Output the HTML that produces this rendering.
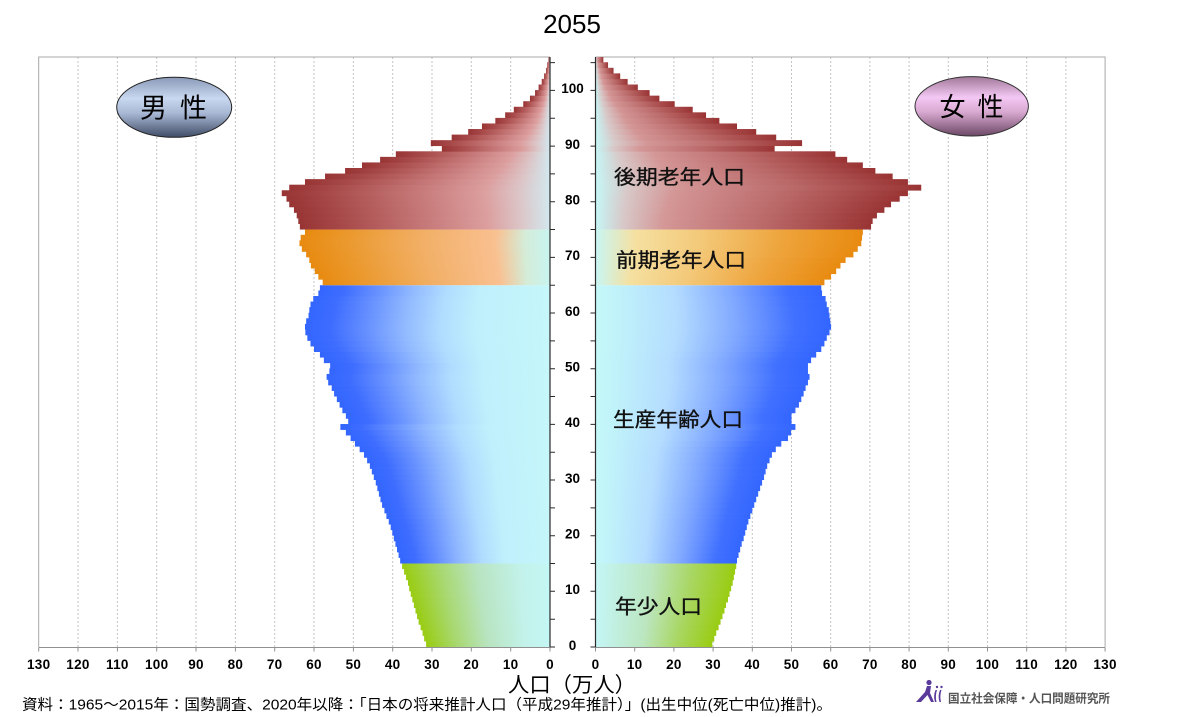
<!DOCTYPE html>
<html><head><meta charset="utf-8"><style>html,body{margin:0;padding:0;background:#fff}svg{display:block}</style></head><body>
<svg width="1200" height="717" viewBox="0 0 1200 717" xmlns="http://www.w3.org/2000/svg">
<defs>
<linearGradient id="gmR" x1="0" y1="0" x2="1" y2="0"><stop offset="0" stop-color="#d2e8ee"/><stop offset="0.12" stop-color="#dcc4c6"/><stop offset="0.25" stop-color="#dc9e9e"/><stop offset="0.5" stop-color="#c67878"/><stop offset="0.8" stop-color="#aa4d4d"/><stop offset="1" stop-color="#983434"/></linearGradient>
<linearGradient id="gfR" x1="0" y1="0" x2="1" y2="0"><stop offset="0" stop-color="#c6f6f6"/><stop offset="0.1" stop-color="#d8c8c8"/><stop offset="0.25" stop-color="#d49696"/><stop offset="0.6" stop-color="#bb6a6a"/><stop offset="1" stop-color="#9a3434"/></linearGradient>
<linearGradient id="gmO" x1="0" y1="0" x2="1" y2="0"><stop offset="0" stop-color="#c8f4f0"/><stop offset="0.1" stop-color="#d4ecd8"/><stop offset="0.22" stop-color="#f9c090"/><stop offset="0.5" stop-color="#f2b068"/><stop offset="0.8" stop-color="#eb9a30"/><stop offset="1" stop-color="#e88a10"/></linearGradient>
<linearGradient id="gfO" x1="0" y1="0" x2="1" y2="0"><stop offset="0" stop-color="#c8f6f4"/><stop offset="0.15" stop-color="#f5e0a0"/><stop offset="0.4" stop-color="#f3c878"/><stop offset="0.7" stop-color="#eea43c"/><stop offset="1" stop-color="#e88a10"/></linearGradient>
<linearGradient id="gmB" x1="0" y1="0" x2="1" y2="0"><stop offset="0" stop-color="#c4f6fa"/><stop offset="0.3" stop-color="#c0f0fc"/><stop offset="0.45" stop-color="#b0dcff"/><stop offset="0.6" stop-color="#90b8ff"/><stop offset="0.75" stop-color="#6690ff"/><stop offset="0.9" stop-color="#3d6cff"/><stop offset="1" stop-color="#3366ff"/></linearGradient>
<linearGradient id="gfB" x1="0" y1="0" x2="1" y2="0"><stop offset="0" stop-color="#c4f8f8"/><stop offset="0.1" stop-color="#c0f2fa"/><stop offset="0.35" stop-color="#b4dcff"/><stop offset="0.6" stop-color="#80a8ff"/><stop offset="0.85" stop-color="#4070ff"/><stop offset="1" stop-color="#3366ff"/></linearGradient>
<linearGradient id="gmG" x1="0" y1="0" x2="1" y2="0"><stop offset="0" stop-color="#c4f6f4"/><stop offset="0.2" stop-color="#c2f2ea"/><stop offset="0.5" stop-color="#b8e4c0"/><stop offset="0.75" stop-color="#a8d870"/><stop offset="1" stop-color="#99cc11"/></linearGradient>
<linearGradient id="gfG" x1="0" y1="0" x2="1" y2="0"><stop offset="0" stop-color="#c4f6f6"/><stop offset="0.4" stop-color="#bce6c0"/><stop offset="0.7" stop-color="#a8d660"/><stop offset="1" stop-color="#99cc11"/></linearGradient>
<linearGradient id="elM" x1="0" y1="0" x2="0" y2="1"><stop offset="0" stop-color="#8a9ab8"/><stop offset="0.35" stop-color="#c8d8f0"/><stop offset="0.6" stop-color="#a8b8d4"/><stop offset="1" stop-color="#404c68"/></linearGradient>
<linearGradient id="elF" x1="0" y1="0" x2="0" y2="1"><stop offset="0" stop-color="#a07898"/><stop offset="0.35" stop-color="#f4c8f4"/><stop offset="0.6" stop-color="#d8a8d0"/><stop offset="1" stop-color="#6c4866"/></linearGradient>
</defs>

<!-- gridlines -->
<g stroke="#c4c4c4" stroke-width="1" stroke-dasharray="2,2">
<line x1="510.7" y1="57" x2="510.7" y2="647"/><line x1="471.3" y1="57" x2="471.3" y2="647"/><line x1="432" y1="57" x2="432" y2="647"/><line x1="392.7" y1="57" x2="392.7" y2="647"/><line x1="353.4" y1="57" x2="353.4" y2="647"/><line x1="314" y1="57" x2="314" y2="647"/><line x1="274.7" y1="57" x2="274.7" y2="647"/><line x1="235.4" y1="57" x2="235.4" y2="647"/><line x1="196" y1="57" x2="196" y2="647"/><line x1="156.7" y1="57" x2="156.7" y2="647"/><line x1="117.4" y1="57" x2="117.4" y2="647"/><line x1="78" y1="57" x2="78" y2="647"/>
<line x1="634.7" y1="57" x2="634.7" y2="647"/><line x1="673.9" y1="57" x2="673.9" y2="647"/><line x1="713.1" y1="57" x2="713.1" y2="647"/><line x1="752.3" y1="57" x2="752.3" y2="647"/><line x1="791.5" y1="57" x2="791.5" y2="647"/><line x1="830.7" y1="57" x2="830.7" y2="647"/><line x1="869.9" y1="57" x2="869.9" y2="647"/><line x1="909.1" y1="57" x2="909.1" y2="647"/><line x1="948.3" y1="57" x2="948.3" y2="647"/><line x1="987.5" y1="57" x2="987.5" y2="647"/><line x1="1026.7" y1="57" x2="1026.7" y2="647"/><line x1="1065.9" y1="57" x2="1065.9" y2="647"/>
</g>
<!-- plot borders -->
<g stroke="#a8a8a8" stroke-width="1" fill="none">
<polyline points="550,57 38.7,57 38.7,647"/>
<polyline points="595.5,57 1105.1,57 1105.1,647"/>
</g>

<!-- male bars -->
<g transform="translate(550,647) scale(-3.933,-5.566)">
<g fill="url(#gmG)">
<rect y="0" width="31.5" height="1.06"/><rect y="1" width="32.0" height="1.06"/><rect y="2" width="32.4" height="1.06"/><rect y="3" width="32.9" height="1.06"/><rect y="4" width="33.4" height="1.06"/><rect y="5" width="33.8" height="1.06"/><rect y="6" width="34.2" height="1.06"/><rect y="7" width="34.6" height="1.06"/><rect y="8" width="35.0" height="1.06"/><rect y="9" width="35.4" height="1.06"/><rect y="10" width="35.8" height="1.06"/><rect y="11" width="36.1" height="1.06"/><rect y="12" width="36.6" height="1.06"/><rect y="13" width="37.1" height="1.06"/><rect y="14" width="37.6" height="1"/>
</g>
<g fill="url(#gmB)">
<rect y="15" width="38.1" height="1.06"/><rect y="16" width="38.5" height="1.06"/><rect y="17" width="38.9" height="1.06"/><rect y="18" width="39.3" height="1.06"/><rect y="19" width="39.7" height="1.06"/><rect y="20" width="40.1" height="1.06"/><rect y="21" width="40.5" height="1.06"/><rect y="22" width="41.0" height="1.06"/><rect y="23" width="41.6" height="1.06"/><rect y="24" width="42.1" height="1.06"/><rect y="25" width="42.7" height="1.06"/><rect y="26" width="43.1" height="1.06"/><rect y="27" width="43.5" height="1.06"/><rect y="28" width="43.9" height="1.06"/><rect y="29" width="44.3" height="1.06"/><rect y="30" width="44.8" height="1.06"/><rect y="31" width="45.3" height="1.06"/><rect y="32" width="45.8" height="1.06"/><rect y="33" width="46.5" height="1.06"/><rect y="34" width="47.3" height="1.06"/><rect y="35" width="48.4" height="1.06"/><rect y="36" width="49.6" height="1.06"/><rect y="37" width="50.7" height="1.06"/><rect y="38" width="51.9" height="1.06"/><rect y="39" width="53.3" height="1.06"/><rect y="40" width="51.3" height="1.06"/><rect y="41" width="51.9" height="1.06"/><rect y="42" width="52.8" height="1.06"/><rect y="43" width="53.5" height="1.06"/><rect y="44" width="54.2" height="1.06"/><rect y="45" width="54.9" height="1.06"/><rect y="46" width="55.5" height="1.06"/><rect y="47" width="56.4" height="1.06"/><rect y="48" width="56.8" height="1.06"/><rect y="49" width="56.1" height="1.06"/><rect y="50" width="55.9" height="1.06"/><rect y="51" width="57.5" height="1.06"/><rect y="52" width="58.5" height="1.06"/><rect y="53" width="60.0" height="1.06"/><rect y="54" width="60.9" height="1.06"/><rect y="55" width="61.7" height="1.06"/><rect y="56" width="62.2" height="1.06"/><rect y="57" width="62.3" height="1.06"/><rect y="58" width="62.0" height="1.06"/><rect y="59" width="61.4" height="1.06"/><rect y="60" width="61.2" height="1.06"/><rect y="61" width="60.9" height="1.06"/><rect y="62" width="60.2" height="1.06"/><rect y="63" width="58.9" height="1.06"/><rect y="64" width="58.5" height="1"/>
</g>
<g fill="url(#gmO)">
<rect y="65" width="57.8" height="1.06"/><rect y="66" width="58.9" height="1.06"/><rect y="67" width="59.8" height="1.06"/><rect y="68" width="60.8" height="1.06"/><rect y="69" width="61.2" height="1.06"/><rect y="70" width="62.0" height="1.06"/><rect y="71" width="63.1" height="1.06"/><rect y="72" width="63.7" height="1.06"/><rect y="73" width="63.4" height="1.06"/><rect y="74" width="62.3" height="1"/>
</g>
<g fill="url(#gmR)">
<rect y="75" width="63.6" height="1.06"/><rect y="76" width="64.0" height="1.06"/><rect y="77" width="64.4" height="1.06"/><rect y="78" width="65.1" height="1.06"/><rect y="79" width="66.3" height="1.06"/><rect y="80" width="67.0" height="1.06"/><rect y="81" width="68.2" height="1.06"/><rect y="82" width="66.3" height="1.06"/><rect y="83" width="62.3" height="1.06"/><rect y="84" width="57.2" height="1.06"/><rect y="85" width="52.1" height="1.06"/><rect y="86" width="47.8" height="1.06"/><rect y="87" width="43.2" height="1.06"/><rect y="88" width="39.2" height="1.06"/><rect y="89" width="27.5" height="1.06"/><rect y="90" width="30.3" height="1.06"/><rect y="91" width="25.0" height="1.06"/><rect y="92" width="20.8" height="1.06"/><rect y="93" width="17.3" height="1.06"/><rect y="94" width="13.9" height="1.06"/><rect y="95" width="11.4" height="1.06"/><rect y="96" width="9.2" height="1.06"/><rect y="97" width="6.8" height="1.06"/><rect y="98" width="5.1" height="1.06"/><rect y="99" width="3.8" height="1.06"/><rect y="100" width="2.9" height="1.06"/><rect y="101" width="2.1" height="1.06"/><rect y="102" width="1.5" height="1.06"/><rect y="103" width="1.0" height="1.06"/><rect y="104" width="0.7" height="1.06"/><rect y="105" width="0.4" height="1"/>
</g>
</g>

<!-- female bars -->
<g transform="translate(595.5,647) scale(3.92,-5.566)">
<g fill="url(#gfG)">
<rect y="0" width="29.8" height="1.06"/><rect y="1" width="30.3" height="1.06"/><rect y="2" width="30.8" height="1.06"/><rect y="3" width="31.4" height="1.06"/><rect y="4" width="31.9" height="1.06"/><rect y="5" width="32.4" height="1.06"/><rect y="6" width="32.9" height="1.06"/><rect y="7" width="33.3" height="1.06"/><rect y="8" width="33.8" height="1.06"/><rect y="9" width="34.2" height="1.06"/><rect y="10" width="34.6" height="1.06"/><rect y="11" width="35.0" height="1.06"/><rect y="12" width="35.3" height="1.06"/><rect y="13" width="35.6" height="1.06"/><rect y="14" width="35.9" height="1"/>
</g>
<g fill="url(#gfB)">
<rect y="15" width="36.1" height="1.06"/><rect y="16" width="36.5" height="1.06"/><rect y="17" width="36.9" height="1.06"/><rect y="18" width="37.3" height="1.06"/><rect y="19" width="37.8" height="1.06"/><rect y="20" width="38.2" height="1.06"/><rect y="21" width="38.6" height="1.06"/><rect y="22" width="39.0" height="1.06"/><rect y="23" width="39.5" height="1.06"/><rect y="24" width="40.0" height="1.06"/><rect y="25" width="40.5" height="1.06"/><rect y="26" width="41.0" height="1.06"/><rect y="27" width="41.5" height="1.06"/><rect y="28" width="42.0" height="1.06"/><rect y="29" width="42.5" height="1.06"/><rect y="30" width="43.0" height="1.06"/><rect y="31" width="43.4" height="1.06"/><rect y="32" width="43.8" height="1.06"/><rect y="33" width="44.4" height="1.06"/><rect y="34" width="45.0" height="1.06"/><rect y="35" width="46.0" height="1.06"/><rect y="36" width="47.4" height="1.06"/><rect y="37" width="49.1" height="1.06"/><rect y="38" width="49.9" height="1.06"/><rect y="39" width="51.0" height="1.06"/><rect y="40" width="50.0" height="1.06"/><rect y="41" width="50.0" height="1.06"/><rect y="42" width="51.0" height="1.06"/><rect y="43" width="51.9" height="1.06"/><rect y="44" width="52.5" height="1.06"/><rect y="45" width="53.1" height="1.06"/><rect y="46" width="53.6" height="1.06"/><rect y="47" width="54.2" height="1.06"/><rect y="48" width="54.6" height="1.06"/><rect y="49" width="54.2" height="1.06"/><rect y="50" width="54.2" height="1.06"/><rect y="51" width="55.0" height="1.06"/><rect y="52" width="56.3" height="1.06"/><rect y="53" width="57.6" height="1.06"/><rect y="54" width="58.4" height="1.06"/><rect y="55" width="59.0" height="1.06"/><rect y="56" width="59.7" height="1.06"/><rect y="57" width="60.1" height="1.06"/><rect y="58" width="59.9" height="1.06"/><rect y="59" width="59.7" height="1.06"/><rect y="60" width="59.5" height="1.06"/><rect y="61" width="59.0" height="1.06"/><rect y="62" width="58.7" height="1.06"/><rect y="63" width="57.8" height="1.06"/><rect y="64" width="57.6" height="1"/>
</g>
<g fill="url(#gfO)">
<rect y="65" width="58.4" height="1.06"/><rect y="66" width="60.1" height="1.06"/><rect y="67" width="61.4" height="1.06"/><rect y="68" width="62.5" height="1.06"/><rect y="69" width="63.8" height="1.06"/><rect y="70" width="65.8" height="1.06"/><rect y="71" width="66.9" height="1.06"/><rect y="72" width="67.8" height="1.06"/><rect y="73" width="68.0" height="1.06"/><rect y="74" width="68.2" height="1"/>
</g>
<g fill="url(#gfR)">
<rect y="75" width="70.3" height="1.06"/><rect y="76" width="70.7" height="1.06"/><rect y="77" width="71.8" height="1.06"/><rect y="78" width="73.7" height="1.06"/><rect y="79" width="75.4" height="1.06"/><rect y="80" width="77.6" height="1.06"/><rect y="81" width="79.7" height="1.06"/><rect y="82" width="83.1" height="1.06"/><rect y="83" width="79.7" height="1.06"/><rect y="84" width="75.8" height="1.06"/><rect y="85" width="71.4" height="1.06"/><rect y="86" width="68.2" height="1.06"/><rect y="87" width="64.2" height="1.06"/><rect y="88" width="61.2" height="1.06"/><rect y="89" width="45.7" height="1.06"/><rect y="90" width="52.7" height="1.06"/><rect y="91" width="46.1" height="1.06"/><rect y="92" width="41.0" height="1.06"/><rect y="93" width="36.1" height="1.06"/><rect y="94" width="31.6" height="1.06"/><rect y="95" width="28.2" height="1.06"/><rect y="96" width="24.8" height="1.06"/><rect y="97" width="20.2" height="1.06"/><rect y="98" width="16.3" height="1.06"/><rect y="99" width="13.8" height="1.06"/><rect y="100" width="10.8" height="1.06"/><rect y="101" width="8.2" height="1.06"/><rect y="102" width="6.3" height="1.06"/><rect y="103" width="4.6" height="1.06"/><rect y="104" width="3.2" height="1.06"/><rect y="105" width="2.0" height="1"/>
</g>
</g>

<!-- central axes -->
<g stroke="#2a2a2a" stroke-width="1.2">
<line x1="550" y1="57" x2="550" y2="647.5"/>
<line x1="595.5" y1="57" x2="595.5" y2="647.5"/>
</g>
<g stroke="#2a2a2a" stroke-width="1">
<path d="M550 647H555M550 619.2H555M550 591.3H555M550 563.5H555M550 535.7H555M550 507.9H555M550 480H555M550 452.2H555M550 424.4H555M550 396.5H555M550 368.7H555M550 340.9H555M550 313H555M550 285.2H555M550 257.4H555M550 229.5H555M550 201.7H555M550 173.9H555M550 146.1H555M550 118.2H555M550 90.4H555M550 62.6H555"/>
<path d="M595.5 647H590.5M595.5 619.2H590.5M595.5 591.3H590.5M595.5 563.5H590.5M595.5 535.7H590.5M595.5 507.9H590.5M595.5 480H590.5M595.5 452.2H590.5M595.5 424.4H590.5M595.5 396.5H590.5M595.5 368.7H590.5M595.5 340.9H590.5M595.5 313H590.5M595.5 285.2H590.5M595.5 257.4H590.5M595.5 229.5H590.5M595.5 201.7H590.5M595.5 173.9H590.5M595.5 146.1H590.5M595.5 118.2H590.5M595.5 90.4H590.5M595.5 62.6H590.5"/>
</g>
<!-- bottom axes -->
<g stroke="#909090" stroke-width="1">
<line x1="38.7" y1="647.5" x2="550" y2="647.5"/>
<line x1="595.5" y1="647.5" x2="1105.1" y2="647.5"/>
<path d="M38.7 647.5V651.5M78 647.5V651.5M117.4 647.5V651.5M156.7 647.5V651.5M196 647.5V651.5M235.4 647.5V651.5M274.7 647.5V651.5M314 647.5V651.5M353.4 647.5V651.5M392.7 647.5V651.5M432 647.5V651.5M471.3 647.5V651.5M510.7 647.5V651.5M550 647.5V651.5"/>
<path d="M595.5 647.5V651.5M634.7 647.5V651.5M673.9 647.5V651.5M713.1 647.5V651.5M752.3 647.5V651.5M791.5 647.5V651.5M830.7 647.5V651.5M869.9 647.5V651.5M909.1 647.5V651.5M948.3 647.5V651.5M987.5 647.5V651.5M1026.7 647.5V651.5M1065.9 647.5V651.5M1105.1 647.5V651.5"/>
</g>

<!-- age labels -->
<g font-family="Liberation Sans, Arial, sans-serif" font-size="13.5" font-weight="bold" fill="#000" text-anchor="middle">
<text x="572.5" y="649.8">0</text><text x="572.5" y="594.1">10</text><text x="572.5" y="538.5">20</text><text x="572.5" y="482.8">30</text><text x="572.5" y="427.2">40</text><text x="572.5" y="371.5">50</text><text x="572.5" y="315.8">60</text><text x="572.5" y="260.2">70</text><text x="572.5" y="204.5">80</text><text x="572.5" y="148.9">90</text><text x="572.5" y="93.2">100</text>
</g>
<!-- x labels -->
<g font-family="Liberation Sans, Arial, sans-serif" font-size="13.5" font-weight="bold" fill="#000" text-anchor="middle" letter-spacing="0.3">
<text x="38.7" y="668.8">130</text><text x="78" y="668.8">120</text><text x="117.4" y="668.8">110</text><text x="156.7" y="668.8">100</text><text x="196" y="668.8">90</text><text x="235.4" y="668.8">80</text><text x="274.7" y="668.8">70</text><text x="314" y="668.8">60</text><text x="353.4" y="668.8">50</text><text x="392.7" y="668.8">40</text><text x="432" y="668.8">30</text><text x="471.3" y="668.8">20</text><text x="510.7" y="668.8">10</text><text x="550" y="668.8">0</text>
<text x="595.5" y="668.8">0</text><text x="634.7" y="668.8">10</text><text x="673.9" y="668.8">20</text><text x="713.1" y="668.8">30</text><text x="752.3" y="668.8">40</text><text x="791.5" y="668.8">50</text><text x="830.7" y="668.8">60</text><text x="869.9" y="668.8">70</text><text x="909.1" y="668.8">80</text><text x="948.3" y="668.8">90</text><text x="987.5" y="668.8">100</text><text x="1026.7" y="668.8">110</text><text x="1065.9" y="668.8">120</text><text x="1105.1" y="668.8">130</text>
</g>

<!-- title -->
<text x="572" y="33" font-family="Liberation Sans, Arial, sans-serif" font-size="26" text-anchor="middle" fill="#000">2055</text>

<!-- category labels -->
<g font-family="Liberation Sans, 'Noto Sans CJK JP', sans-serif" font-size="20" fill="#111" stroke="#111" stroke-width="0.35">
<text x="614" y="184" textLength="131" lengthAdjust="spacingAndGlyphs">後期老年人口</text>
<text x="616" y="267" textLength="130" lengthAdjust="spacingAndGlyphs">前期老年人口</text>
<text x="613" y="426.5" textLength="130" lengthAdjust="spacingAndGlyphs">生産年齢人口</text>
<text x="615" y="613.5" textLength="87" lengthAdjust="spacingAndGlyphs">年少人口</text>
</g>

<!-- ellipses -->
<ellipse cx="174.2" cy="107.3" rx="57.5" ry="30" fill="url(#elM)" stroke="#222" stroke-width="1"/>
<g font-family="Liberation Sans, 'Noto Sans CJK JP', sans-serif" font-size="27" fill="#000">
<text x="140" y="117.5">男</text><text x="180" y="117.5">性</text>
</g>
<ellipse cx="971.7" cy="106.3" rx="56.7" ry="29.7" fill="url(#elF)" stroke="#333" stroke-width="1"/>
<g font-family="Liberation Sans, 'Noto Sans CJK JP', sans-serif" font-size="26" fill="#000">
<text x="939.5" y="116">女</text><text x="977.5" y="116">性</text>
</g>

<!-- axis title -->
<text x="572" y="692" font-family="Liberation Sans, 'Noto Sans CJK JP', sans-serif" font-size="21" text-anchor="middle" textLength="128" lengthAdjust="spacingAndGlyphs" fill="#000">人口（万人）</text>

<!-- source -->
<text x="22" y="709.5" font-family="Liberation Sans, 'Noto Sans CJK JP', sans-serif" font-size="15" textLength="810" lengthAdjust="spacingAndGlyphs" fill="#000">資料：1965～2015年：国勢調査、2020年以降：「日本の将来推計人口（平成29年推計）」(出生中位(死亡中位)推計)。</text>

<!-- logo -->
<g fill="#5a3a9a">
<circle cx="929" cy="682.5" r="2.6"/>
<path d="M927 686 L931 686 L930 693 L934 702 L931 702 L927.5 695 L921 702 L916 702 L925 692 Z"/>
<path d="M935.5 690 Q933 696 935 702 L936.5 702 Q935 696 937 690 Z"/>
<path d="M940 690 Q937.5 696 939.5 702 L941 702 Q939.5 696 941.5 690 Z"/>
<circle cx="937" cy="687" r="1.2"/><circle cx="941.5" cy="687" r="1.2"/>
</g>
<text x="948" y="702.5" font-family="Liberation Sans, 'Noto Sans CJK JP', sans-serif" font-size="12" font-weight="bold" fill="#555" textLength="162" lengthAdjust="spacingAndGlyphs">国立社会保障・人口問題研究所</text>
</svg>
</body></html>
